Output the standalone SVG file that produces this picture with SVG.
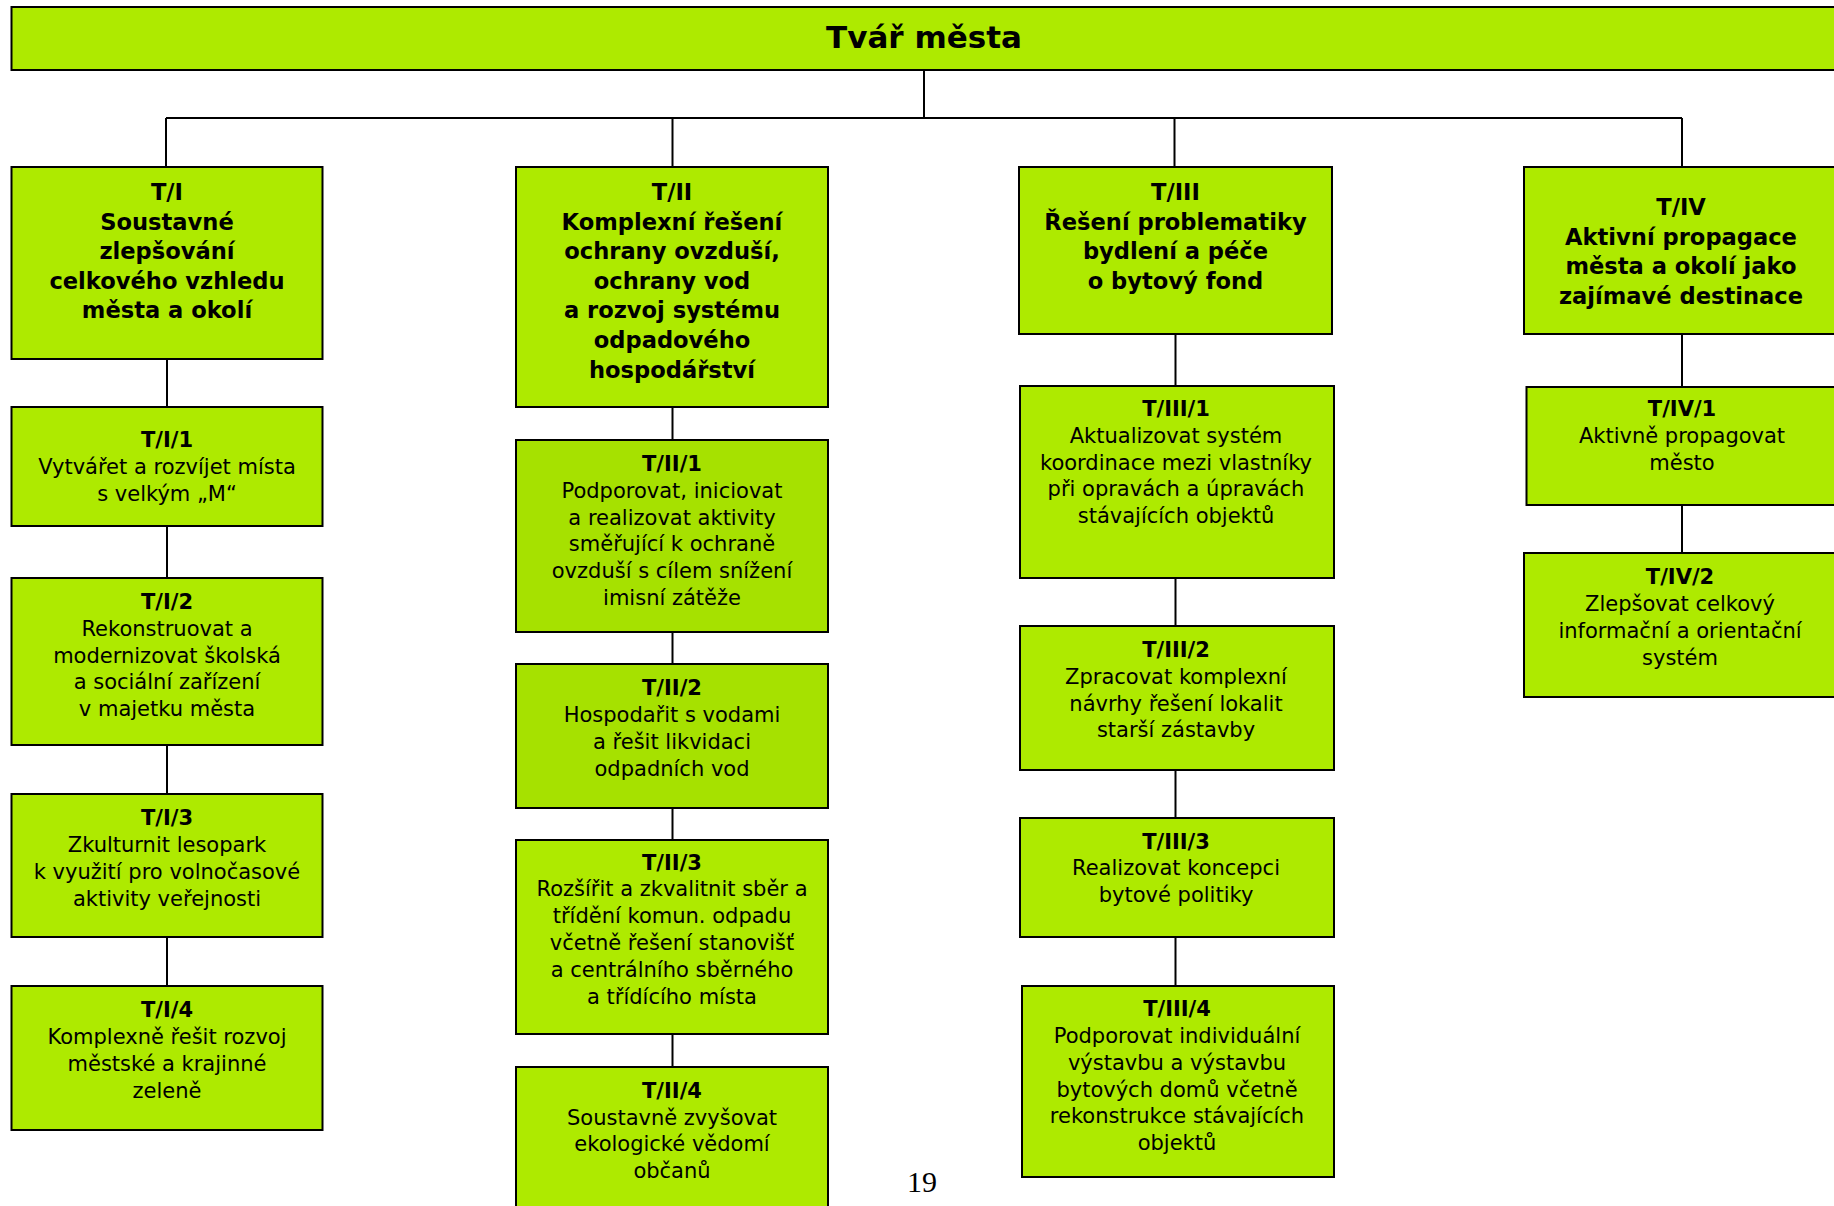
<svg xmlns="http://www.w3.org/2000/svg" width="1834" height="1206" viewBox="0 0 1834 1206">
<style>
.box{fill:#aeea00;stroke:#000;stroke-width:2}
.box2{fill:#a6e100;stroke:#000;stroke-width:2}
.conn line{stroke:#000;stroke-width:2}
text{font-family:"DejaVu Sans","Verdana",sans-serif;fill:#000;text-anchor:middle}
.h{font-weight:bold;font-size:22.6px}
.t{font-size:21px}
.t .id{font-weight:bold}
.top{font-weight:bold;font-size:31px}
.pg{font-family:"Liberation Serif","Times New Roman",serif;font-size:30px}
</style>
<rect width="1834" height="1206" fill="#fff"/>
<g id="connectors" class="conn">
<line x1="924" y1="70" x2="924" y2="118"/>
<line x1="166" y1="118" x2="1682" y2="118"/>
<line x1="166" y1="118" x2="166" y2="167"/>
<line x1="672.5" y1="118" x2="672.5" y2="167"/>
<line x1="1174.5" y1="118" x2="1174.5" y2="167"/>
<line x1="1682" y1="118" x2="1682" y2="167"/>
<line x1="167" y1="359" x2="167" y2="407"/>
<line x1="167" y1="526" x2="167" y2="578"/>
<line x1="167" y1="745" x2="167" y2="794"/>
<line x1="167" y1="937" x2="167" y2="986"/>
<line x1="672.5" y1="407" x2="672.5" y2="440"/>
<line x1="672.5" y1="632" x2="672.5" y2="664"/>
<line x1="672.5" y1="808" x2="672.5" y2="840"/>
<line x1="672.5" y1="1034" x2="672.5" y2="1067"/>
<line x1="1175.5" y1="334" x2="1175.5" y2="386"/>
<line x1="1175.5" y1="578" x2="1175.5" y2="626"/>
<line x1="1175.5" y1="770" x2="1175.5" y2="818"/>
<line x1="1175.5" y1="937" x2="1175.5" y2="986"/>
<line x1="1682" y1="334" x2="1682" y2="387"/>
<line x1="1682" y1="505" x2="1682" y2="553"/>
</g>
<g id="top">
<rect class="box" x="11.5" y="7" width="1840" height="63"/>
<text class="top" x="924" y="48.4">Tvář města</text>
</g>
<g id="T-I">
<rect class="box" x="11.5" y="167" width="311" height="192"/>
<text class="h"><tspan x="167" y="200">T/I</tspan><tspan x="167" dy="29.6">Soustavné</tspan><tspan x="167" dy="29.6">zlepšování</tspan><tspan x="167" dy="29.6">celkového vzhledu</tspan><tspan x="167" dy="29.6">města a okolí</tspan></text>
</g>
<g id="T-I-1">
<rect class="box" x="11.5" y="407" width="311" height="119"/>
<text class="t"><tspan class="id" x="167" y="447.3">T/I/1</tspan><tspan x="167" dy="26.9">Vytvářet a rozvíjet místa</tspan><tspan x="167" dy="26.9">s velkým „M“</tspan></text>
</g>
<g id="T-I-2">
<rect class="box" x="11.5" y="578" width="311" height="167"/>
<text class="t"><tspan class="id" x="167" y="608.7">T/I/2</tspan><tspan x="167" dy="26.9">Rekonstruovat a</tspan><tspan x="167" dy="26.9">modernizovat školská</tspan><tspan x="167" dy="26.9">a sociální zařízení</tspan><tspan x="167" dy="26.9">v majetku města</tspan></text>
</g>
<g id="T-I-3">
<rect class="box" x="11.5" y="794" width="311" height="143"/>
<text class="t"><tspan class="id" x="167" y="825.1">T/I/3</tspan><tspan x="167" dy="26.9">Zkulturnit lesopark</tspan><tspan x="167" dy="26.9">k využití pro volnočasové</tspan><tspan x="167" dy="26.9">aktivity veřejnosti</tspan></text>
</g>
<g id="T-I-4">
<rect class="box" x="11.5" y="986" width="311" height="144"/>
<text class="t"><tspan class="id" x="167" y="1016.9">T/I/4</tspan><tspan x="167" dy="26.9">Komplexně řešit rozvoj</tspan><tspan x="167" dy="26.9">městské a krajinné</tspan><tspan x="167" dy="26.9">zeleně</tspan></text>
</g>
<g id="T-II">
<rect class="box" x="516" y="167" width="312" height="240"/>
<text class="h"><tspan x="672" y="200">T/II</tspan><tspan x="672" dy="29.6">Komplexní řešení</tspan><tspan x="672" dy="29.6">ochrany ovzduší,</tspan><tspan x="672" dy="29.6">ochrany vod</tspan><tspan x="672" dy="29.6">a rozvoj systému</tspan><tspan x="672" dy="29.6">odpadového</tspan><tspan x="672" dy="29.6">hospodářství</tspan></text>
</g>
<g id="T-II-1">
<rect class="box2" x="516" y="440" width="312" height="192"/>
<text class="t"><tspan class="id" x="672" y="470.7">T/II/1</tspan><tspan x="672" dy="26.9">Podporovat, iniciovat</tspan><tspan x="672" dy="26.9">a realizovat aktivity</tspan><tspan x="672" dy="26.9">směřující k ochraně</tspan><tspan x="672" dy="26.9">ovzduší s cílem snížení</tspan><tspan x="672" dy="26.9">imisní zátěže</tspan></text>
</g>
<g id="T-II-2">
<rect class="box2" x="516" y="664" width="312" height="144"/>
<text class="t"><tspan class="id" x="672" y="695.3">T/II/2</tspan><tspan x="672" dy="26.9">Hospodařit s vodami</tspan><tspan x="672" dy="26.9">a řešit likvidaci</tspan><tspan x="672" dy="26.9">odpadních vod</tspan></text>
</g>
<g id="T-II-3">
<rect class="box" x="516" y="840" width="312" height="194"/>
<text class="t"><tspan class="id" x="672" y="869.5">T/II/3</tspan><tspan x="672" dy="26.9">Rozšířit a zkvalitnit sběr a</tspan><tspan x="672" dy="26.9">třídění komun. odpadu</tspan><tspan x="672" dy="26.9">včetně řešení stanovišť</tspan><tspan x="672" dy="26.9">a centrálního sběrného</tspan><tspan x="672" dy="26.9">a třídícího místa</tspan></text>
</g>
<g id="T-II-4">
<rect class="box" x="516" y="1067" width="312" height="160"/>
<text class="t"><tspan class="id" x="672" y="1097.6">T/II/4</tspan><tspan x="672" dy="26.9">Soustavně zvyšovat</tspan><tspan x="672" dy="26.9">ekologické vědomí</tspan><tspan x="672" dy="26.9">občanů</tspan></text>
</g>
<g id="T-III">
<rect class="box" x="1019" y="167" width="313" height="167"/>
<text class="h"><tspan x="1175.5" y="200">T/III</tspan><tspan x="1175.5" dy="29.6">Řešení problematiky</tspan><tspan x="1175.5" dy="29.6">bydlení a péče</tspan><tspan x="1175.5" dy="29.6">o bytový fond</tspan></text>
</g>
<g id="T-III-1">
<rect class="box" x="1020" y="386" width="314" height="192"/>
<text class="t"><tspan class="id" x="1176" y="415.7">T/III/1</tspan><tspan x="1176" dy="26.9">Aktualizovat systém</tspan><tspan x="1176" dy="26.9">koordinace mezi vlastníky</tspan><tspan x="1176" dy="26.9">při opravách a úpravách</tspan><tspan x="1176" dy="26.9">stávajících objektů</tspan></text>
</g>
<g id="T-III-2">
<rect class="box" x="1020" y="626" width="314" height="144"/>
<text class="t"><tspan class="id" x="1176" y="656.7">T/III/2</tspan><tspan x="1176" dy="26.9">Zpracovat komplexní</tspan><tspan x="1176" dy="26.9">návrhy řešení lokalit</tspan><tspan x="1176" dy="26.9">starší zástavby</tspan></text>
</g>
<g id="T-III-3">
<rect class="box" x="1020" y="818" width="314" height="119"/>
<text class="t"><tspan class="id" x="1176" y="848.5">T/III/3</tspan><tspan x="1176" dy="26.9">Realizovat koncepci</tspan><tspan x="1176" dy="26.9">bytové politiky</tspan></text>
</g>
<g id="T-III-4">
<rect class="box" x="1022" y="986" width="312" height="191"/>
<text class="t"><tspan class="id" x="1177" y="1015.8">T/III/4</tspan><tspan x="1177" dy="26.9">Podporovat individuální</tspan><tspan x="1177" dy="26.9">výstavbu a výstavbu</tspan><tspan x="1177" dy="26.9">bytových domů včetně</tspan><tspan x="1177" dy="26.9">rekonstrukce stávajících</tspan><tspan x="1177" dy="26.9">objektů</tspan></text>
</g>
<g id="T-IV">
<rect class="box" x="1524" y="167" width="330" height="167"/>
<text class="h"><tspan x="1681" y="215.1">T/IV</tspan><tspan x="1681" dy="29.6">Aktivní propagace</tspan><tspan x="1681" dy="29.6">města a okolí jako</tspan><tspan x="1681" dy="29.6">zajímavé destinace</tspan></text>
</g>
<g id="T-IV-1">
<rect class="box" x="1526.5" y="387" width="330" height="118"/>
<text class="t"><tspan class="id" x="1682" y="415.7">T/IV/1</tspan><tspan x="1682" dy="26.9">Aktivně propagovat</tspan><tspan x="1682" dy="26.9">město</tspan></text>
</g>
<g id="T-IV-2">
<rect class="box" x="1524" y="553" width="330" height="144"/>
<text class="t"><tspan class="id" x="1680" y="584.1">T/IV/2</tspan><tspan x="1680" dy="26.9">Zlepšovat celkový</tspan><tspan x="1680" dy="26.9">informační a orientační</tspan><tspan x="1680" dy="26.9">systém</tspan></text>
</g>
<text class="pg" x="922" y="1192">19</text>
</svg>
